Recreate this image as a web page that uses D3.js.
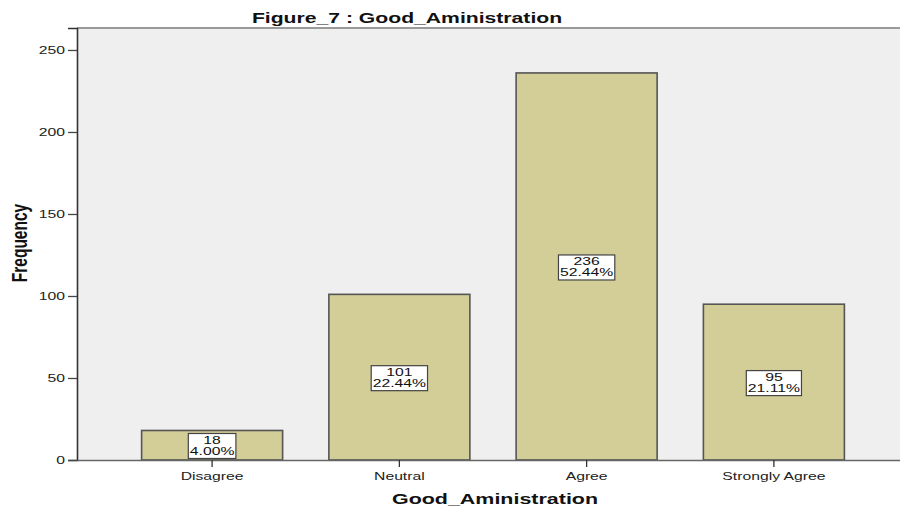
<!DOCTYPE html>
<html>
<head>
<meta charset="utf-8">
<script src="https://cdn.jsdelivr.net/npm/d3@7"></script>
<style>
  html, body { margin: 0; padding: 0; background: #fff; }
  svg { display: block; font-family: "Liberation Sans", Arial, sans-serif; }
</style>
</head>
<body>
<svg id="chart" width="900" height="510"></svg>
<script>
// Response categories and their counts
const categories = ["Disagree", "Neutral", "Agree", "Strongly Agree"];
const frequencies = [18, 101, 236, 95];
const yTicks = [0, 50, 100, 150, 200, 250];
const chartTitle = "Figure_7 : Good_Aministration";
const xTitle = "Good_Aministration";
const yTitle = "Frequency";

const W = 900, H = 510;
const plot = { left: 77, top: 28, right: 909, bottom: 460 };
const stretch = 1.43;           // horizontal text widening used throughout
const total = d3.sum(frequencies);

const svg = d3.select("#chart");

const x = d3.scaleBand()
  .domain(categories)
  .range([plot.left, plot.right])
  .paddingInner(0.247)
  .paddingOuter(0.345);

const y = d3.scaleLinear()
  .domain([0, 263.4])
  .range([plot.bottom, plot.top]);

// plot background
svg.append("rect")
  .attr("x", plot.left).attr("y", plot.top)
  .attr("width", plot.right - plot.left)
  .attr("height", plot.bottom - plot.top)
  .attr("fill", "#efefef");

// top frame line
svg.append("line")
  .attr("x1", plot.left).attr("x2", W)
  .attr("y1", plot.top).attr("y2", plot.top)
  .attr("stroke", "#9a9a9a").attr("stroke-width", 2);

// bars
svg.append("g").selectAll("rect")
  .data(categories)
  .join("rect")
  .attr("x", d => x(d))
  .attr("y", (d, i) => y(frequencies[i]))
  .attr("width", x.bandwidth())
  .attr("height", (d, i) => y(0) - y(frequencies[i]))
  .attr("fill", "#d3cd97")
  .attr("stroke", "#555555")
  .attr("stroke-width", 1.6);

// y axis
const yAxis = svg.append("g")
  .attr("transform", `translate(${plot.left},0)`)
  .call(d3.axisLeft(y).tickValues(yTicks).tickSize(9).tickPadding(3).tickFormat(d3.format("d")));
yAxis.select(".domain").attr("stroke", "#333").attr("stroke-width", 1.6);
yAxis.selectAll(".tick line").attr("stroke", "#444").attr("stroke-width", 1.3);
yAxis.selectAll(".tick text")
  .attr("font-size", 11)
  .attr("font-family", "Liberation Sans, Arial, sans-serif")
  .attr("fill", "#222")
  .each(function () {
    const t = d3.select(this);
    const tx = +t.attr("x");
    t.attr("x", 0).attr("transform", `translate(${tx},0) scale(${stretch},1)`);
  });

// x axis
const xAxis = svg.append("g")
  .attr("transform", `translate(0,${plot.bottom})`)
  .call(d3.axisBottom(x).tickSize(7).tickPadding(4).tickSizeOuter(0));
xAxis.select(".domain").attr("stroke", "#666").attr("stroke-width", 1.6);
xAxis.selectAll(".tick line").attr("stroke", "#333").attr("stroke-width", 1.3);
xAxis.selectAll(".tick text")
  .attr("font-size", 11)
  .attr("font-family", "Liberation Sans, Arial, sans-serif")
  .attr("fill", "#222")
  .each(function () {
    const t = d3.select(this);
    const ty = +t.attr("y");
    t.attr("y", 0).attr("transform", `translate(0,${ty + 1}) scale(${stretch},1)`);
  });

// value / percentage boxes centred inside each bar
const labels = svg.append("g").selectAll("g")
  .data(categories)
  .join("g")
  .attr("transform", (d, i) => {
    const cx = x(d) + x.bandwidth() / 2;
    const cy = (y(frequencies[i]) + y(0)) / 2 + 1;
    return `translate(${cx},${Math.min(cy, y(0) - 14)})`;
  });

labels.each(function (d, i) {
  const g = d3.select(this);
  const pct = (frequencies[i] / total * 100).toFixed(2) + "%";
  const box = g.append("rect").attr("fill", "#fff").attr("stroke", "#444").attr("stroke-width", 1.2);
  const inner = g.append("g").attr("transform", `scale(${stretch},1)`);
  const t1 = inner.append("text").attr("text-anchor", "middle").attr("y", -2)
    .attr("font-size", 11).attr("fill", "#111").text(frequencies[i]);
  const t2 = inner.append("text").attr("text-anchor", "middle").attr("y", 9)
    .attr("font-size", 11).attr("fill", "#111").text(pct);
  const w = Math.max(t1.node().getComputedTextLength(), t2.node().getComputedTextLength()) * stretch + 3;
  box.attr("x", -w / 2).attr("y", -12.5).attr("width", w).attr("height", 25);
});

// chart title
svg.append("text")
  .attr("transform", `translate(${407},${23}) scale(${stretch},1)`)
  .attr("text-anchor", "middle")
  .attr("font-size", 14.8).attr("font-weight", "bold").attr("fill", "#111")
  .text(chartTitle);

// x axis title
svg.append("text")
  .attr("transform", `translate(${495},${504}) scale(${stretch},1)`)
  .attr("text-anchor", "middle")
  .attr("font-size", 15).attr("font-weight", "bold").attr("fill", "#111")
  .text(xTitle);

// y axis title
svg.append("text")
  .attr("transform", `translate(${27},${243}) scale(${stretch},1) rotate(-90)`)
  .attr("text-anchor", "middle")
  .attr("font-size", 15.5).attr("font-weight", "bold").attr("fill", "#111")
  .text(yTitle);
</script>
</body>
</html>
